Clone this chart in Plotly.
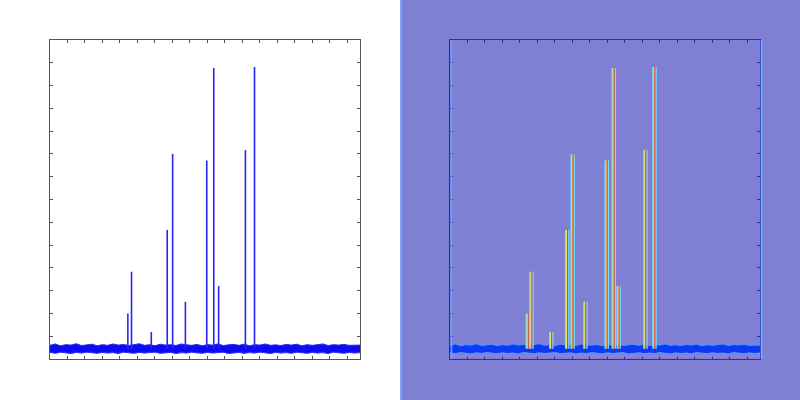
import plotly.graph_objects as go

# ---- data ----
peak_pos = [445, 466, 579, 670, 701, 774, 896, 936, 964, 1117, 1169]
peak_height = [2.0, 3.83, 1.18, 5.66, 9.0, 2.51, 8.71, 12.77, 3.2, 9.17, 12.81]
baseline_level = 0.45

band_x = [0, 30, 60, 90, 120, 150, 180, 210, 240, 270, 300, 330, 360, 390, 420, 450,
          480, 510, 540, 570, 600, 630, 660, 690, 720, 750, 780, 810, 840, 870, 900,
          930, 960, 990, 1020, 1050, 1080, 1110, 1140, 1170, 1200, 1230, 1260, 1290,
          1320, 1350, 1380, 1410, 1440, 1470, 1500, 1530, 1560, 1590, 1620, 1650,
          1680, 1710, 1740, 1772]
band_upper = [0.60, 0.66, 0.58, 0.63, 0.61, 0.67, 0.59, 0.62, 0.65, 0.58, 0.63, 0.60,
              0.66, 0.61, 0.64, 0.59, 0.62, 0.67, 0.60, 0.63, 0.58, 0.65, 0.61, 0.63,
              0.59, 0.66, 0.62, 0.60, 0.64, 0.58, 0.63, 0.61, 0.66, 0.59, 0.62, 0.64,
              0.60, 0.65, 0.58, 0.63, 0.61, 0.66, 0.60, 0.62, 0.59, 0.64, 0.61, 0.65,
              0.58, 0.63, 0.60, 0.62, 0.66, 0.59, 0.63, 0.61, 0.64, 0.60, 0.62, 0.61]
band_lower = [0.29, 0.25, 0.30, 0.27, 0.24, 0.29, 0.26, 0.30, 0.27, 0.25, 0.29, 0.26,
              0.28, 0.24, 0.30, 0.27, 0.25, 0.29, 0.26, 0.28, 0.30, 0.25, 0.27, 0.29,
              0.24, 0.28, 0.26, 0.30, 0.27, 0.25, 0.29, 0.26, 0.28, 0.30, 0.24, 0.27,
              0.29, 0.25, 0.28, 0.26, 0.30, 0.27, 0.24, 0.29, 0.26, 0.28, 0.25, 0.30,
              0.27, 0.25, 0.29, 0.26, 0.28, 0.24, 0.30, 0.27, 0.25, 0.29, 0.26, 0.28]

X_MAX = 1772
Y_MAX = 14
UNITS_PER_PX = X_MAX / 310.0

fig = go.Figure()


def spikes(offset=0.0):
    xs, ys = [], []
    for p, h in zip(peak_pos, peak_height):
        xs += [p + offset, p + offset, None]
        ys += [baseline_level, h, None]
    return xs, ys


# ---- left panel ----
fig.add_trace(go.Scatter(x=band_x, y=band_lower, mode="lines", line=dict(width=1, color="#2a2af0"),
                         xaxis="x", yaxis="y", hoverinfo="skip", showlegend=False))
fig.add_trace(go.Scatter(x=band_x, y=band_upper, mode="lines", fill="tonexty", fillcolor="#0c0cf4",
                         line=dict(width=1, color="#2a2af0"), xaxis="x", yaxis="y",
                         hoverinfo="skip", showlegend=False))
sx, sy = spikes()
fig.add_trace(go.Scatter(x=sx, y=sy, mode="lines", line=dict(width=1.6, color="#2626f0"),
                         xaxis="x", yaxis="y", showlegend=False))

# ---- right panel ----
fig.add_trace(go.Scatter(x=band_x, y=[v - 0.02 for v in band_lower], mode="lines",
                         line=dict(width=1, color="#5aa8f0"), xaxis="x2", yaxis="y2",
                         hoverinfo="skip", showlegend=False))
fig.add_trace(go.Scatter(x=band_x, y=band_upper, mode="lines", fill="tonexty", fillcolor="#0a3af8",
                         line=dict(width=1, color="#4a9af8"), xaxis="x2", yaxis="y2",
                         hoverinfo="skip", showlegend=False))
for off_px, col in [(-1.6, "#70dcff"), (-0.55, "#f4ea50"), (0.55, "#e63a24"), (1.6, "#70dcff")]:
    sx, sy = spikes(off_px * UNITS_PER_PX)
    fig.add_trace(go.Scatter(x=sx, y=sy, mode="lines", line=dict(width=1.3, color=col),
                             xaxis="x2", yaxis="y2", showlegend=False, hoverinfo="skip"))

common_x = dict(range=[0, X_MAX], tick0=0, dtick=100, showticklabels=False, ticks="inside",
                ticklen=3, showgrid=False, zeroline=False, showline=True, mirror="ticks")
common_y = dict(range=[0, Y_MAX], tick0=0, dtick=1, showticklabels=False, ticks="inside",
                ticklen=3, showgrid=False, zeroline=False, showline=True, mirror="ticks")

fig.update_layout(
    width=800, height=400,
    margin=dict(l=0, r=0, t=0, b=0),
    paper_bgcolor="white",
    plot_bgcolor="rgba(0,0,0,0)",
    xaxis=dict(domain=[50 / 800, 360 / 800], anchor="y", linecolor="#555555", tickcolor="#555555",
               linewidth=1, **common_x),
    yaxis=dict(domain=[1 - 359 / 400, 1 - 40 / 400], anchor="x", linecolor="#555555",
               tickcolor="#555555", linewidth=1, **common_y),
    xaxis2=dict(domain=[450 / 800, 760 / 800], anchor="y2", linecolor="#2a2ab8", tickcolor="#2a2ab8",
                linewidth=1, **common_x),
    yaxis2=dict(domain=[1 - 359 / 400, 1 - 40 / 400], anchor="x2", linecolor="#2a2ab8",
                tickcolor="#2a2ab8", linewidth=1, **common_y),
    shapes=[
        dict(type="rect", xref="paper", yref="paper", x0=0.5, x1=1, y0=0, y1=1,
             fillcolor="#7f7fd4", line=dict(width=0), layer="below"),
        dict(type="line", xref="paper", yref="paper", x0=401 / 800, x1=401 / 800, y0=0, y1=1,
             line=dict(color="#7fa2ff", width=2)),
        dict(type="line", xref="paper", yref="paper", x0=451.5 / 800, x1=451.5 / 800,
             y0=1 - 359 / 400, y1=1 - 40 / 400, line=dict(color="#5fa8ff", width=1.5)),
        dict(type="line", xref="paper", yref="paper", x0=761.5 / 800, x1=761.5 / 800,
             y0=1 - 359 / 400, y1=1 - 40 / 400, line=dict(color="#5fc0ff", width=1.5)),
        dict(type="line", xref="paper", yref="paper", x0=450 / 800, x1=760 / 800,
             y0=1 - 356 / 400, y1=1 - 356 / 400, line=dict(color="#8c8ce6", width=1)),
    ],
)

fig.write_html(
    "out.html",
    config={"displayModeBar": False},
    post_script="document.body.style.margin='0';document.body.style.overflow='hidden';",
)
